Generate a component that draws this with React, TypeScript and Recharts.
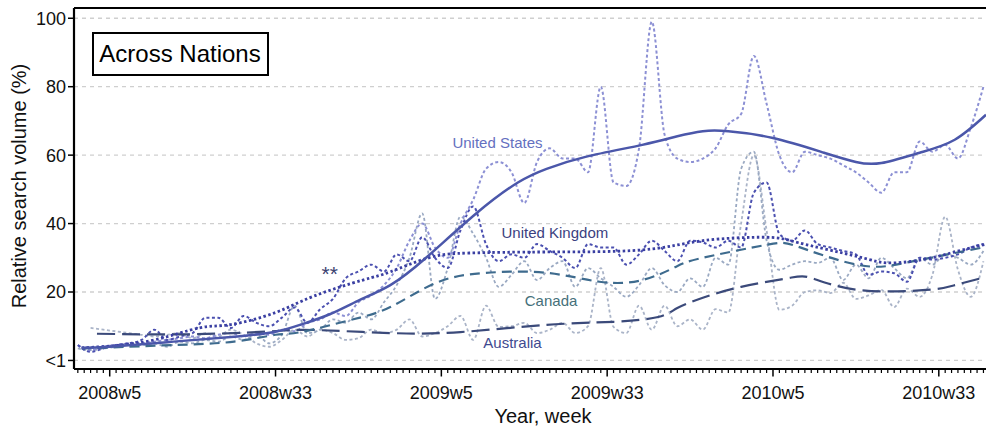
import React from 'react'
import {
  LineChart, Line, XAxis, YAxis, CartesianGrid, ReferenceLine, ReferenceDot,
} from 'recharts'

const FONT = '"Liberation Sans", Arial, Helvetica, sans-serif'

// weeks since 2008w0 (tick spacing is 26 weeks)
const MAJOR_TICK_WEEKS = [5, 31, 57, 83, 109, 135]
const MAJOR_TICK_LABELS = ['2008w5', '2008w33', '2009w5', '2009w33', '2010w5', '2010w33']
const Y_TICKS = [0, 20, 40, 60, 80, 100]

// raw weekly series (sampled every two weeks)
const RAW_WEEKS = [
  0, 2, 4, 6, 8, 10, 12, 14, 16, 18,
  20, 22, 24, 26, 28, 30, 32, 34, 36, 38,
  40, 42, 44, 46, 48, 50, 52, 54, 56, 58,
  60, 62, 64, 66, 68, 70, 72, 74, 76, 78,
  80, 82, 84, 86, 88, 90, 92, 94, 96, 98,
  100, 102, 104, 106, 108, 110, 112, 114, 116, 118,
  120, 122, 124, 126, 128, 130, 132, 134, 136, 138,
  140, 142,
]
const US_RAW = [
  4.5, 3, 4, 4.5, 5, 5, 5.5, 6, 6.5, 7,
  6.5, 7.5, 8, 7, 8, 7.5, 9, 8.5, 11, 12,
  14, 13, 17, 19, 22, 27, 35, 40, 33, 30,
  40, 47, 56, 58, 55, 46, 58, 62, 59, 59,
  55, 80, 52, 51, 62, 99, 66, 59, 58, 59,
  62, 69, 72, 89, 75, 60, 55, 61, 60, 59,
  57, 55, 52, 49, 55, 55, 64, 61, 63, 59,
  68, 80,
]
const UK_RAW = [
  4.5, 2.5, 3.5, 4.5, 5, 6, 9, 6, 7, 8,
  12.5, 12.5, 9.5, 13, 11, 10, 12.5, 15.5, 11, 15,
  18, 24, 26, 28, 26, 31, 29, 36, 30, 27,
  38, 45, 34, 29, 31, 30, 34, 32, 30, 27,
  34, 33, 33, 28, 31, 35, 32, 29, 35, 34.5,
  33, 35, 33, 49, 52, 37, 35, 38, 34, 33,
  32, 31, 25, 26, 25.5, 23, 30, 29.5, 30, 31,
  33, 34,
]
const CA_RAW = [
  3.5, 3, 3.5, 4, 4.5, 4.5, 5, 4, 5.5, 5,
  6, 5.5, 7, 6, 7.5, 5, 7.5, 16, 8, 9,
  12, 11, 14, 12, 17, 22, 30, 43, 18, 27,
  42, 37, 30, 21.5, 25, 29, 23.5, 27, 29, 21.5,
  27, 24, 21.5, 18.6, 22, 27, 22, 20, 24, 21.5,
  30, 28, 56, 61, 35, 26.5, 28, 29, 28.5, 30,
  23.5, 28, 24, 30, 27, 24, 30, 28, 31, 30,
  28, 32,
]
const AU_RAW = [
  null, 9.5, 9, 8.5, 8, 7.5, 7, 7.5, 8, 6.5,
  8, 7, 9, 7.5, 5, 4, 6, 9, 7, 9,
  8, 6, 6.5, 9, 8, 9, 12, 7, 8, 10,
  13, 6, 16, 9.8, 10, 11, 8, 9, 11, 8,
  10, 27, 9.8, 8, 16, 9, 16, 10, 12, 9,
  15, 14, 40, 60, 38, 14.8, 16, 20, 20.5, 19.7,
  22.7, 18, 19, 20.6, 15.6, 21, 18.6, 25, 42, 26.5,
  18.6, 29,
]

// fitted (smoothed) curves
const US_FIT_WEEKS = [0.6, 5, 15, 25, 31, 35, 39.5, 44, 49, 54.6, 62.5, 69, 73.5, 79.6, 88.5, 94, 98, 102, 109, 117, 122, 126, 132, 137.5, 142.4]
const US_FIT = [3.7, 4, 5.5, 7, 8.4, 10.5, 13.5, 17.5, 22, 30, 43, 52, 56, 59.5, 63, 65.5, 67, 67, 65, 60.7, 58, 57.7, 60.7, 64.5, 71.8]
const UK_FIT_WEEKS = [0.6, 5, 12, 19, 24, 31, 37, 44.7, 49, 55, 61.4, 73.5, 88.5, 98, 108, 113, 122.4, 127, 132.3, 137.5, 142.4]
const UK_FIT = [3.7, 4.2, 6, 9.5, 10.5, 14, 18.8, 23.5, 25.9, 30, 31.4, 31.7, 32.3, 35, 36, 34.4, 30.3, 28.5, 29.4, 31.7, 34]
const CA_FIT_WEEKS = [0.6, 5, 15, 24.5, 31, 35, 42.7, 49, 56.2, 64, 73.5, 81.8, 88.5, 93.7, 98, 108, 113, 122.4, 129.7, 137.5, 142.4]
const CA_FIT = [3.5, 3.8, 4.5, 5.5, 7.5, 8.3, 11.8, 15.6, 22.7, 25.6, 25.6, 23, 23.5, 27.3, 30, 33.8, 33.2, 27.9, 28.5, 31.4, 33.2]
const AU_FIT_WEEKS = [3, 15, 24.5, 31, 37, 49, 60, 73.5, 84, 91, 94, 98, 104, 111.5, 115, 122.4, 133, 137.5, 142.4]
const AU_FIT = [7.8, 7.6, 8, 8.6, 8.9, 8, 8.3, 10.4, 11.3, 12.7, 15.3, 18.3, 21.5, 24.1, 24.1, 20.6, 20.6, 22, 24.4]

const LABEL_TEXTS = ['United States', 'United Kingdom', 'Canada', 'Australia', '**']
const LABEL_WEEKS = [65.8, 74.8, 74.2, 68.15, 39.5]
const LABEL_VALUES = [63.6, 37.3, 17.5, 5.2, 25.5]
const LABEL_COLORS = ['#6470c0', '#3b3f80', '#46707a', '#3f4a90', '#3b4270']
const LABEL_SIZES = [15, 15, 15, 15, 21]

const rawData = RAW_WEEKS.map((t, i) => ({
  t, us: US_RAW[i], uk: UK_RAW[i], ca: CA_RAW[i], au: AU_RAW[i],
}))
const fit = (weeks: number[], vals: number[]) => weeks.map((t, i) => ({ t, v: vals[i] }))

const allWeeks = Array.from({ length: 143 }, (_, i) => i)

const WeekTick = (props: any) => {
  const { x, y, payload } = props
  const idx = MAJOR_TICK_WEEKS.indexOf(payload.value)
  if (idx < 0) {
    return <line x1={x} x2={x} y1={y} y2={y + 4} stroke="#000" strokeWidth={1.2} />
  }
  return (
    <g>
      <line x1={x} x2={x} y1={y} y2={y + 7.5} stroke="#000" strokeWidth={1.5} />
      <text x={x} y={y + 29.5} textAnchor="middle" fontSize={18} fontFamily={FONT} fill="#111">
        {MAJOR_TICK_LABELS[idx]}
      </text>
    </g>
  )
}

export default function App() {
  return (
    <div style={{ position: 'absolute', left: 0, top: 0, width: 986, height: 428, background: '#fff' }}>
      <LineChart
        width={986}
        height={428}
        data={rawData}
        margin={{ top: 8, right: 0, bottom: 0, left: 0 }}
      >
        <CartesianGrid vertical={false} stroke="#cfcfcf" strokeDasharray="4 4" strokeWidth={1.3} />
        <XAxis
          dataKey="t"
          type="number"
          domain={[-0.6, 142.4]}
          allowDataOverflow
          ticks={allWeeks}
          interval={0}
          height={59}
          tickLine={false}
          tickSize={0}
          tickMargin={0}
          tick={<WeekTick />}
          axisLine={{ stroke: '#000', strokeWidth: 2.2 }}
        />
        <YAxis
          type="number"
          domain={[-2.5, 103]}
          allowDataOverflow
          ticks={Y_TICKS}
          width={74}
          tickFormatter={(v: number) => (v === 0 ? '<1' : String(v))}
          tick={{ fill: '#111', fontSize: 18, fontFamily: FONT }}
          tickLine={{ stroke: '#000', strokeWidth: 1.5 }}
          tickSize={6}
          tickMargin={2}
          axisLine={{ stroke: '#000', strokeWidth: 2.2 }}
        />
        <ReferenceLine y={103} stroke="#000" strokeWidth={2.2} />

        <Line dataKey="au" type="monotone" stroke="#aab4c8" strokeWidth={1.8} strokeDasharray="3 2.5" dot={false} isAnimationActive={false} connectNulls />
        <Line dataKey="ca" type="monotone" stroke="#9aa9c2" strokeWidth={1.8} strokeDasharray="3 2.5" dot={false} isAnimationActive={false} />
        <Line dataKey="us" type="monotone" stroke="#8c90d4" strokeWidth={2} strokeDasharray="3 2.5" dot={false} isAnimationActive={false} />
        <Line dataKey="uk" type="monotone" stroke="#4b50b0" strokeWidth={2} strokeDasharray="3 2.5" dot={false} isAnimationActive={false} />

        <Line data={fit(AU_FIT_WEEKS, AU_FIT)} dataKey="v" type="natural" stroke="#3b4a7a" strokeWidth={2.2} strokeDasharray="18 7" dot={false} isAnimationActive={false} />
        <Line data={fit(CA_FIT_WEEKS, CA_FIT)} dataKey="v" type="natural" stroke="#3e6b8e" strokeWidth={2.2} strokeDasharray="10 6" dot={false} isAnimationActive={false} />
        <Line data={fit(UK_FIT_WEEKS, UK_FIT)} dataKey="v" type="natural" stroke="#3a3fa2" strokeWidth={2.8} strokeDasharray="2.5 2.5" dot={false} isAnimationActive={false} />
        <Line data={fit(US_FIT_WEEKS, US_FIT)} dataKey="v" type="natural" stroke="#4b57aa" strokeWidth={2.5} dot={false} isAnimationActive={false} />

        {LABEL_TEXTS.map((txt, i) => (
          <ReferenceDot
            key={txt}
            x={LABEL_WEEKS[i]}
            y={LABEL_VALUES[i]}
            r={1}
            fill="none"
            stroke="none"
            label={{
              value: txt,
              position: 'center',
              fill: LABEL_COLORS[i],
              fontSize: LABEL_SIZES[i],
              fontFamily: FONT,
            }}
          />
        ))}
      </LineChart>
      <svg
        width={986}
        height={428}
        style={{ position: 'absolute', left: 0, top: 0, pointerEvents: 'none' }}
      >
        <rect x={93} y={33} width={175} height={42} fill="#fff" stroke="#000" strokeWidth={2} />
        <text x={180} y={62} textAnchor="middle" fontSize={24} fontFamily={FONT} fill="#000">
          Across Nations
        </text>
        <text x={543} y={423} textAnchor="middle" fontSize={20} fontFamily={FONT} fill="#111">
          Year, week
        </text>
        <text
          x={26}
          y={186}
          textAnchor="middle"
          fontSize={20}
          fontFamily={FONT}
          fill="#111"
          transform="rotate(-90 26 186)"
        >
          Relative search volume (%)
        </text>
      </svg>
    </div>
  )
}
